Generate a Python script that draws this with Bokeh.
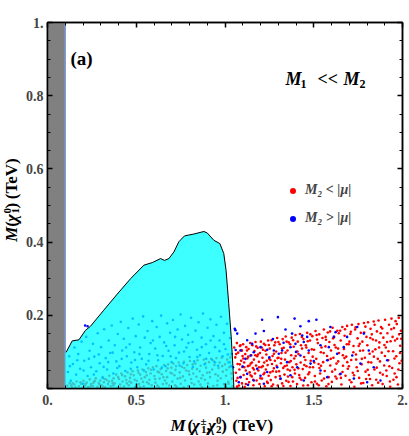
import math
from bokeh.plotting import figure
from bokeh.models import (Label, LinearAxis, FixedTicker, Legend, LegendItem, Range1d)
from bokeh.layouts import row, column
from bokeh.embed import file_html
from bokeh.resources import INLINE

# ---------------- data ----------------
x_ticks = [0, 0.5, 1, 1.5, 2]
x_tick_labels = ["0.", "0.5", "1.", "1.5", "2."]
y_ticks = [0, 0.2, 0.4, 0.6, 0.8, 1]
y_tick_labels = ["", "0.2", "0.4", "0.6", "0.8", "1."]

band_x = [0.0, 0.10]          # excluded grey band (TeV)

# boundary of the allowed (cyan) region
edge_x = [0.105, 0.139, 0.177, 0.214, 0.242, 0.317, 0.393, 0.468, 0.543, 0.590,
          0.637, 0.659, 0.684, 0.712, 0.740, 0.772, 0.824, 0.881, 0.900, 0.937,
          0.971, 0.993, 1.006, 1.021, 1.035, 1.046, 1.050]
edge_y = [0.099, 0.130, 0.133, 0.159, 0.170, 0.214, 0.258, 0.300, 0.337, 0.344,
          0.355, 0.350, 0.355, 0.373, 0.401, 0.417, 0.422, 0.429, 0.425, 0.405,
          0.396, 0.369, 0.323, 0.232, 0.141, 0.049, 0.0]

# M2 < |mu| points (red)
red_pts = [
    (1.052,0.112),(1.058,0.085),(1.061,0.043),(1.064,0.021),(1.067,0.124),(1.071,0.067),(1.074,0.098),(1.078,0.008),
    (1.081,0.052),(1.084,0.116),(1.088,0.031),(1.091,0.076),(1.093,0.105),(1.096,0.014),(1.098,0.059),(1.099,0.089),
    (1.102,0.121),(1.105,0.037),(1.108,0.071),(1.111,0.004),(1.114,0.094),(1.117,0.049),(1.12,0.113),(1.123,0.026),
    (1.126,0.082),(1.129,0.061),(1.133,0.108),(1.136,0.017),(1.139,0.044),(1.142,0.124),(1.145,0.068),(1.148,0.091),
    (1.151,0.033),(1.154,0.118),(1.157,0.056),(1.16,0.009),(1.163,0.079),(1.166,0.102),(1.169,0.041),(1.172,0.127),
    (1.175,0.063),(1.178,0.022),(1.181,0.088),(1.184,0.111),(1.188,0.049),(1.191,0.073),(1.194,0.012),(1.197,0.097),
    (1.202,0.128),(1.205,0.058),(1.208,0.027),(1.211,0.084),(1.214,0.106),(1.217,0.039),(1.221,0.071),(1.224,0.006),
    (1.227,0.119),(1.23,0.052),(1.233,0.093),(1.237,0.018),(1.24,0.064),(1.243,0.131),(1.246,0.035),(1.249,0.081),
    (1.252,0.109),(1.255,0.044),(1.258,0.023),(1.262,0.132),(1.265,0.067),(1.268,0.089),(1.271,0.011),(1.275,0.055),
    (1.278,0.118),(1.281,0.076),(1.285,0.031),(1.288,0.101),(1.291,0.062),(1.294,0.138),(1.297,0.008),
    (1.302,0.084),(1.305,0.047),(1.308,0.121),(1.312,0.026),(1.315,0.069),(1.318,0.097),(1.322,0.014),(1.325,0.135),
    (1.328,0.056),(1.331,0.111),(1.335,0.038),(1.338,0.079),(1.342,0.142),(1.345,0.021),(1.348,0.063),
    (1.352,0.104),(1.355,0.033),(1.359,0.126),(1.362,0.072),(1.366,0.049),(1.369,0.007),(1.373,0.091),(1.376,0.139),
    (1.38,0.058),(1.383,0.019),(1.387,0.114),(1.39,0.082),(1.394,0.041),(1.397,0.146),
    (1.402,0.066),(1.406,0.012),(1.41,0.128),(1.414,0.094),(1.418,0.037),(1.422,0.149),(1.426,0.071),(1.43,0.024),
    (1.434,0.109),(1.438,0.053),(1.442,0.135),(1.446,0.086),
    (1.451,0.029),(1.455,0.118),(1.459,0.061),(1.463,0.152),(1.467,0.009),(1.471,0.097),(1.475,0.044),(1.479,0.131),
    (1.483,0.076),(1.487,0.017),(1.492,0.143),(1.496,0.058),
    (1.502,0.106),(1.506,0.034),(1.51,0.157),(1.514,0.081),(1.518,0.013),(1.523,0.124),(1.527,0.067),(1.531,0.148),
    (1.536,0.041),(1.54,0.099),(1.545,0.022),(1.549,0.138),
    (1.553,0.072),(1.557,0.161),(1.562,0.048),(1.566,0.115),(1.571,0.006),(1.575,0.089),(1.579,0.153),(1.584,0.031),
    (1.588,0.127),(1.593,0.063),(1.597,0.104),
    (1.602,0.018),(1.606,0.166),(1.611,0.084),(1.615,0.141),(1.62,0.052),(1.624,0.112),(1.629,0.027),(1.633,0.158),
    (1.638,0.074),(1.642,0.097),(1.647,0.039),
    (1.652,0.131),(1.656,0.011),(1.661,0.168),(1.665,0.062),(1.67,0.108),(1.674,0.144),(1.679,0.035),(1.683,0.087),
    (1.688,0.171),(1.692,0.054),(1.697,0.121),
    (1.702,0.023),(1.706,0.149),(1.711,0.078),(1.715,0.174),(1.72,0.043),(1.724,0.116),(1.729,0.005),(1.733,0.161),
    (1.738,0.093),(1.742,0.058),(1.747,0.137),
    (1.752,0.176),(1.756,0.029),(1.761,0.103),(1.765,0.152),(1.77,0.066),(1.774,0.128),(1.779,0.015),(1.783,0.179),
    (1.788,0.084),(1.792,0.046),(1.797,0.141),
    (1.802,0.118),(1.806,0.181),(1.811,0.037),(1.815,0.095),(1.82,0.163),(1.824,0.071),(1.829,0.009),(1.833,0.134),
    (1.838,0.183),(1.842,0.052),(1.847,0.107),
    (1.852,0.024),(1.856,0.156),(1.861,0.081),(1.865,0.186),(1.87,0.126),(1.874,0.043),(1.879,0.168),(1.883,0.098),
    (1.888,0.012),(1.892,0.139),(1.897,0.063),
    (1.902,0.188),(1.906,0.112),(1.911,0.034),(1.915,0.151),(1.92,0.077),(1.924,0.174),(1.929,0.019),(1.933,0.129),
    (1.938,0.191),(1.942,0.056),(1.947,0.102),
    (1.952,0.165),(1.956,0.041),(1.961,0.184),(1.965,0.088),(1.97,0.136),(1.974,0.011),(1.979,0.193),(1.983,0.069),
    (1.987,0.117),(1.991,0.158),
    (1.063,0.094),(1.087,0.118),(1.071,0.029),(1.109,0.058),(1.095,0.103),(1.131,0.087),(1.118,0.012),(1.152,0.071),
    (1.144,0.036),(1.176,0.115),(1.163,0.052),(1.199,0.028),(1.186,0.093),(1.213,0.061),(1.228,0.103),(1.241,0.015),
    (1.256,0.078),(1.219,0.122),(1.269,0.047),(1.283,0.126),(1.296,0.083),(1.309,0.034),(1.321,0.109),(1.336,0.061),
    (1.347,0.128),(1.358,0.018),(1.371,0.075),(1.384,0.132),(1.392,0.051),(1.408,0.101),(1.421,0.029),(1.433,0.141),
    (1.447,0.064),(1.458,0.112),(1.469,0.039),(1.481,0.148),(1.494,0.087),(1.507,0.019),(1.519,0.134),(1.532,0.056),
    (1.544,0.112),(1.558,0.027),(1.567,0.141),(1.581,0.078),(1.592,0.156),(1.604,0.046),(1.617,0.119),(1.628,0.068),
    (1.641,0.151),(1.653,0.029),(1.664,0.091),(1.676,0.162),(1.689,0.072),(1.701,0.128),(1.712,0.017),(1.723,0.099),
    (1.736,0.167),(1.748,0.048),(1.759,0.122),(1.771,0.081),(1.784,0.153),(1.795,0.026),(1.808,0.072),(1.819,0.138),
    (1.832,0.101),(1.843,0.174),(1.855,0.057),(1.868,0.112),(1.877,0.151),(1.889,0.038),(1.901,0.089),(1.913,0.127),
    (1.926,0.061),(1.937,0.162),(1.949,0.024),(1.958,0.131),(1.968,0.176),(1.977,0.052),(1.986,0.097),(1.993,0.136),
    (1.068,0.005),(1.083,0.066),(1.103,0.082),(1.124,0.104),(1.138,0.063),(1.159,0.024),(1.171,0.091),(1.192,0.058),
    (1.207,0.112),(1.223,0.043),(1.235,0.076),(1.247,0.119),(1.263,0.006),(1.276,0.095),(1.289,0.046),(1.301,0.127),
    (1.317,0.081),(1.329,0.007),(1.341,0.098),(1.353,0.052),(1.367,0.121),(1.379,0.031),(1.398,0.089),(1.413,0.055),
    (1.428,0.118),(1.441,0.008),(1.453,0.078),(1.466,0.129),(1.478,0.058),(1.489,0.107),(1.503,0.071),(1.516,0.146),
    (1.528,0.009),(1.541,0.062),(1.556,0.097),(1.569,0.133),(1.583,0.012),(1.596,0.081),(1.609,0.137),(1.622,0.033),
    (1.637,0.109),(1.649,0.158),(1.662,0.045),(1.673,0.083),(1.686,0.121),(1.698,0.061),(1.709,0.155),(1.727,0.036),
    (1.739,0.079),(1.753,0.116),(1.767,0.014),(1.778,0.104),(1.791,0.169),(1.804,0.051),(1.817,0.026),(1.827,0.148),
    (1.839,0.087),(1.851,0.131),(1.863,0.016),(1.873,0.074),(1.886,0.164),(1.898,0.119),(1.909,0.049),(1.921,0.102),
    (1.931,0.005),(1.944,0.141),(1.955,0.082),(1.966,0.031),(1.981,0.148),(1.995,0.076),
    # inside the allowed region (seen through the cyan)
    (0.112,0.008),(0.125,0.015),(0.138,0.004),(0.151,0.011),(0.164,0.019),(0.177,0.006),(0.189,0.013),(0.197,0.002),
    (0.203,0.021),(0.212,0.009),(0.221,0.016),(0.229,0.003),(0.238,0.025),(0.246,0.012),(0.255,0.007),(0.263,0.019),
    (0.272,0.028),(0.281,0.004),(0.289,0.015),(0.297,0.022),
    (0.304,0.009),(0.311,0.031),(0.318,0.017),(0.325,0.003),(0.333,0.024),(0.341,0.012),(0.348,0.035),(0.356,0.006),
    (0.364,0.021),(0.372,0.028),(0.379,0.014),(0.387,0.038),(0.394,0.002),
    (0.403,0.026),(0.409,0.011),(0.416,0.041),(0.423,0.019),(0.43,0.005),(0.437,0.033),(0.444,0.023),(0.451,0.044),
    (0.458,0.009),(0.465,0.029),(0.472,0.016),(0.479,0.047),(0.486,0.036),(0.493,0.003),
    (0.503,0.021),(0.509,0.049),(0.516,0.012),(0.522,0.038),(0.529,0.027),(0.535,0.052),(0.542,0.006),(0.548,0.031),
    (0.555,0.045),(0.561,0.017),(0.568,0.055),(0.574,0.024),(0.581,0.041),(0.587,0.009),(0.594,0.058),
    (0.602,0.034),(0.608,0.016),(0.614,0.061),(0.62,0.046),(0.626,0.004),(0.632,0.027),(0.638,0.053),(0.644,0.039),
    (0.65,0.012),(0.656,0.064),(0.662,0.022),(0.668,0.048),(0.674,0.031),(0.68,0.066),(0.686,0.008),(0.692,0.043),(0.698,0.057),
    (0.703,0.019),(0.709,0.068),(0.715,0.036),(0.721,0.051),(0.727,0.005),(0.733,0.027),(0.739,0.071),(0.745,0.044),
    (0.751,0.013),(0.757,0.059),(0.763,0.033),(0.769,0.073),(0.775,0.022),(0.781,0.049),(0.787,0.064),(0.793,0.007),(0.799,0.038),
    (0.803,0.075),(0.809,0.026),(0.815,0.054),(0.821,0.041),(0.827,0.011),(0.833,0.068),(0.839,0.032),(0.845,0.077),
    (0.851,0.019),(0.857,0.047),(0.863,0.062),(0.869,0.004),(0.875,0.036),(0.881,0.079),(0.887,0.024),(0.893,0.057),(0.899,0.043),
    (0.904,0.014),(0.91,0.072),(0.916,0.031),(0.922,0.081),(0.928,0.052),(0.934,0.007),(0.94,0.064),(0.946,0.039),
    (0.952,0.083),(0.958,0.021),(0.964,0.056),(0.97,0.071),(0.976,0.028),(0.982,0.084),(0.988,0.046),(0.994,0.012),
    (1.0,0.066),(1.006,0.035),(1.012,0.079),(1.018,0.018),(1.024,0.058),(1.03,0.085),(1.036,0.041),(1.042,0.006),
    (0.133,0.009),(0.158,0.003),(0.186,0.017),(0.214,0.013),(0.243,0.006),(0.268,0.021),(0.293,0.011),(0.322,0.026),
    (0.346,0.019),(0.371,0.008),(0.398,0.031),(0.421,0.036),(0.447,0.014),(0.469,0.039),(0.491,0.024),(0.513,0.043),
    (0.538,0.018),(0.559,0.036),(0.583,0.051),(0.606,0.026),(0.629,0.044),(0.653,0.031),(0.677,0.055),(0.701,0.041),
    (0.724,0.061),(0.748,0.029),(0.771,0.056),(0.796,0.047),(0.818,0.066),(0.842,0.053),(0.866,0.028),(0.889,0.069),
    (0.913,0.044),(0.937,0.074),(0.961,0.035),(0.984,0.061),(1.008,0.051),(1.027,0.072),(1.039,0.027),
    (0.142,0.014),(0.207,0.004),(0.259,0.016),(0.314,0.005),(0.367,0.014),(0.411,0.002),(0.462,0.019),(0.521,0.004),
    (0.571,0.013),(0.619,0.008),(0.671,0.014),(0.719,0.009),(0.767,0.003),(0.812,0.015),(0.861,0.011),(0.908,0.003),
    (0.956,0.009),(1.003,0.004),(1.021,0.013),
]

# M2 > |mu| points (blue)
blue_pts = [
    (1.209,0.188),(1.298,0.195),(1.392,0.191),(1.472,0.184),(1.515,0.188),(1.425,0.170),(1.341,0.161),(1.219,0.157),
    (1.172,0.150),(1.125,0.132),(1.153,0.122),(1.059,0.159),(1.069,0.150),(1.378,0.150),(1.435,0.145),(1.463,0.141),
    (1.444,0.127),(1.397,0.122),(1.369,0.113),(1.322,0.104),(1.303,0.095),(1.275,0.104),(1.238,0.106),(1.200,0.113),
    (1.162,0.099),(1.144,0.090),(1.087,0.104),(1.115,0.081),(1.425,0.090),(1.472,0.104),(1.538,0.118),(1.594,0.168),
    (1.623,0.154),(1.613,0.141),(1.585,0.113),(1.632,0.095),(1.688,0.141),(1.745,0.168),(1.782,0.150),(1.810,0.104),
    (1.838,0.058),(1.914,0.077),(1.876,0.022),(1.763,0.068),(1.717,0.090),(1.576,0.077),(1.538,0.049),(1.482,0.068),
    (1.407,0.058),(1.350,0.072),(1.294,0.058),(1.238,0.045),(1.181,0.054),(1.125,0.040),(1.087,0.031),(1.078,0.017),
    (1.162,0.022),(1.219,0.013),(1.313,0.027),(1.369,0.036),(1.444,0.022),(1.576,0.031),(1.651,0.040),(1.726,0.027),
    (1.801,0.017),(1.669,0.113),(1.055,0.163),(1.060,0.105),(1.100,0.060),(1.130,0.010),(1.250,0.085),(1.330,0.125),
    (1.400,0.100),(1.500,0.075),(1.200,0.035),(1.270,0.135),
    # inside / just above the allowed region
    (0.212,0.172),(0.226,0.170),
    (0.115,0.045),(0.122,0.088),(0.131,0.021),(0.143,0.067),(0.152,0.112),(0.161,0.038),(0.173,0.094),(0.184,0.054),
    (0.192,0.128),(0.199,0.013),(0.207,0.076),(0.218,0.141),(0.226,0.034),(0.237,0.103),(0.245,0.058),(0.256,0.122),
    (0.264,0.087),(0.275,0.047),(0.283,0.151),(0.294,0.069),(0.302,0.113),(0.311,0.029),(0.319,0.162),(0.328,0.083),
    (0.336,0.052),(0.345,0.131),(0.353,0.097),(0.362,0.172),(0.371,0.041),(0.379,0.118),(0.388,0.074),(0.396,0.149),
    (0.405,0.061),(0.413,0.182),(0.421,0.104),(0.43,0.136),(0.438,0.048),(0.447,0.088),(0.455,0.165),(0.463,0.121),
    (0.472,0.071),(0.48,0.191),(0.489,0.099),(0.497,0.143),(0.506,0.058),(0.514,0.175),(0.522,0.112),(0.531,0.081),
    (0.539,0.197),(0.548,0.139),(0.556,0.066),(0.564,0.157),(0.573,0.094),(0.581,0.124),(0.59,0.184),(0.598,0.052),
    (0.607,0.109),(0.615,0.168),(0.623,0.077),(0.632,0.141),(0.64,0.199),(0.649,0.089),(0.657,0.126),(0.665,0.061),
    (0.674,0.178),(0.682,0.103),(0.691,0.152),(0.699,0.072),(0.707,0.187),(0.716,0.118),(0.724,0.083),(0.733,0.161),
    (0.741,0.098),(0.75,0.202),(0.758,0.134),(0.766,0.069),(0.775,0.171),(0.783,0.112),(0.792,0.147),(0.8,0.086),
    (0.809,0.193),(0.817,0.127),(0.826,0.074),(0.834,0.158),(0.842,0.106),(0.851,0.181),(0.859,0.091),(0.868,0.139),
    (0.876,0.205),(0.885,0.066),(0.893,0.121),(0.902,0.166),(0.91,0.097),(0.918,0.189),(0.927,0.079),(0.935,0.143),
    (0.944,0.113),(0.952,0.174),(0.961,0.062),(0.969,0.131),(0.977,0.196),(0.986,0.088),(0.994,0.152),(1.003,0.108),
    (1.011,0.177),(1.02,0.071),(1.028,0.138),(1.037,0.094),(1.045,0.058),
    (0.126,0.061),(0.168,0.077),(0.203,0.049),(0.233,0.081),(0.261,0.038),(0.289,0.093),(0.316,0.059),(0.342,0.072),
    (0.367,0.098),(0.393,0.056),(0.418,0.081),(0.443,0.112),(0.469,0.054),(0.493,0.078),(0.518,0.094),(0.543,0.049),
    (0.569,0.076),(0.594,0.131),(0.619,0.091),(0.644,0.057),(0.669,0.116),(0.694,0.088),(0.719,0.141),(0.744,0.063),
    (0.769,0.101),(0.794,0.124),(0.819,0.059),(0.844,0.086),(0.869,0.113),(0.894,0.081),(0.919,0.131),(0.944,0.071),
    (0.969,0.102),(0.994,0.121),(1.016,0.093),(1.033,0.061),
]

red_x = [a for a, b in red_pts]
red_y = [b for a, b in red_pts]
blue_x = [a for a, b in blue_pts]
blue_y = [b for a, b in blue_pts]

# ---------------- layout constants (pixels) ----------------
FONT = "'Liberation Serif'"
W, H = 409, 436          # whole picture
WL = 22                  # strip holding the vertical axis title
HM = 412                 # height of main plot (strip below holds x title)
MID = 0.3375             # text-box centre above the baseline, in em

p = figure(width=W - WL, height=HM, x_range=Range1d(0, 2), y_range=Range1d(0, 1),
           x_axis_type=None, y_axis_type=None, output_backend="svg",
           toolbar_location=None, title_location=None,
           min_border_left=47 - WL, min_border_right=7,
           min_border_top=22, min_border_bottom=HM - 388)
p.outline_line_color = "black"
p.outline_line_width = 1.5
p.background_fill_color = "white"
p.border_fill_color = "white"

xt = FixedTicker(ticks=x_ticks, minor_ticks=[i / 10 for i in range(21)])
yt = FixedTicker(ticks=y_ticks, minor_ticks=[i / 20 for i in range(21)])


def style_axis(ax, show_labels, standoff):
    ax.axis_line_width = 1.5
    ax.major_tick_in = 5
    ax.major_tick_out = 0
    ax.minor_tick_in = 3
    ax.minor_tick_out = 0
    ax.major_tick_line_width = 1.5
    ax.minor_tick_line_width = 1
    ax.major_label_text_font = FONT
    ax.major_label_text_font_style = "bold"
    ax.major_label_standoff = standoff
    if show_labels:
        ax.major_label_text_font_size = "14px"
    else:
        ax.major_label_text_font_size = "1px"
        ax.major_label_text_color = None
        ax.major_label_standoff = 0


xb = LinearAxis(ticker=xt, major_label_overrides=dict(zip(x_ticks, x_tick_labels)))
style_axis(xb, True, 6)
p.add_layout(xb, "below")
yl = LinearAxis(ticker=yt, major_label_overrides=dict(zip(y_ticks, y_tick_labels)))
style_axis(yl, True, 4)
p.add_layout(yl, "left")
xa = LinearAxis(ticker=xt)
style_axis(xa, False, 0)
p.add_layout(xa, "above")
yr = LinearAxis(ticker=yt)
style_axis(yr, False, 0)
p.add_layout(yr, "right")

# grey excluded band
p.quad(left=band_x[0], right=band_x[1], bottom=y_ticks[0], top=y_ticks[-1],
       fill_color="#808080", line_color=None)
p.segment(x0=[band_x[1]], y0=[y_ticks[0]], x1=[band_x[1]], y1=[y_ticks[-1]],
          line_color="#7d9bd6", line_width=1.5)

# scatter points
r_red = p.scatter(red_x, red_y, marker="circle", size=2.6, fill_color="#ff0000",
                  line_color=None)
r_blue = p.scatter(blue_x, blue_y, marker="circle", size=2.6, fill_color="#0000ff",
                   line_color=None)

# cyan allowed region
patch_x = [band_x[1], band_x[1]] + edge_x
patch_y = [0.0, edge_y[0]] + edge_y
p.patch(patch_x, patch_y, fill_color="#00ffff", fill_alpha=0.76, line_color=None)
p.line(edge_x, edge_y, line_color="black", line_width=1)

legend = Legend(items=[LegendItem(label="M\u2082 < |\u03bc|", renderers=[r_red]),
                       LegendItem(label="M\u2082 > |\u03bc|", renderers=[r_blue])],
                location=(238, 162), glyph_width=15, glyph_height=15,
                label_height=15, label_standoff=5, spacing=12, padding=0, margin=0,
                border_line_color=None, background_fill_alpha=0,
                label_text_font=FONT, label_text_font_style="bold italic",
                label_text_font_size="14px")
p.add_layout(legend)


def strip(w, h):
    f = figure(width=w, height=h, x_range=Range1d(0, w), y_range=Range1d(0, h),
               x_axis_type=None, y_axis_type=None, output_backend="svg",
               toolbar_location=None, title_location=None, min_border=0)
    f.outline_line_color = None
    f.background_fill_color = "white"
    f.border_fill_color = "white"
    f.grid.visible = False
    return f


yfig = strip(WL, HM)          # left strip: page x 0..WL, page y 0..HM
xfig = strip(W, H - HM)       # bottom strip: page x 0..W, page y HM..H


def lab(fig, x, y, text, size, style="bold", angle=0.0):
    fig.add_layout(Label(x=x, y=y, text=text, text_font=FONT,
                         text_font_size=f"{size}px", text_font_style=style,
                         text_align="left", text_baseline="middle",
                         angle=angle, text_color="black"))


# positions below are picture pixels (left, baseline); converted per panel
def main_lab(px, py, text, size, style="bold"):
    lab(p, (px - 47) / 177.5, (388 - (py - MID * size)) / 365, text, size, style)


def x_lab(px, py, text, size, style="bold"):
    lab(xfig, px, H - (py - MID * size), text, size, style)


def y_lab(px, py, text, size, style="bold"):
    # rotated text: its baseline is the vertical line x = px
    lab(yfig, px - MID * size, HM - py, text, size, style, math.pi / 2)


# x axis title: M (chi1+-, chi2^0) (TeV)
B = 431
x_lab(170, B, "M", 17, "bold italic")
x_lab(187, B, "(", 17)
x_lab(191.5, B, "\u03c7", 17, "bold italic")
x_lab(200, B - 7, "\u00b1", 11)
x_lab(200.5, B + 1.5, "1", 11)
x_lab(206, B, ",", 17)
x_lab(207.5, B, "\u03c7", 17, "bold italic")
x_lab(215.5, B - 7, "0", 11)
x_lab(215.5, B + 1.5, "2", 11)
x_lab(220.7, B, ")", 17)
x_lab(231.7, B, "(TeV)", 17)

# y axis title (rotated): M(chi1^0) (TeV)
BX = 17
y_lab(BX, 246.7, "M", 17, "bold italic")
y_lab(BX, 230, "(", 17)
y_lab(BX, 224.5, "\u03c7", 17, "bold italic")
y_lab(BX - 6, 215, "0", 11)
y_lab(BX + 1.5, 215, "1", 11)
y_lab(BX, 209.5, ")", 17)
y_lab(BX, 199, "(TeV)", 17)

# panel tag and regime
main_lab(70, 65, "(a)", 19)
main_lab(285, 85, "M", 18, "bold italic")
main_lab(300, 88, "1", 12)
main_lab(317, 85, "<<", 18)
main_lab(343, 85, "M", 18, "bold italic")
main_lab(359, 88, "2", 12)

layout = column(row(yfig, p), xfig)
open("out.html", "w").write(file_html(layout, INLINE))
